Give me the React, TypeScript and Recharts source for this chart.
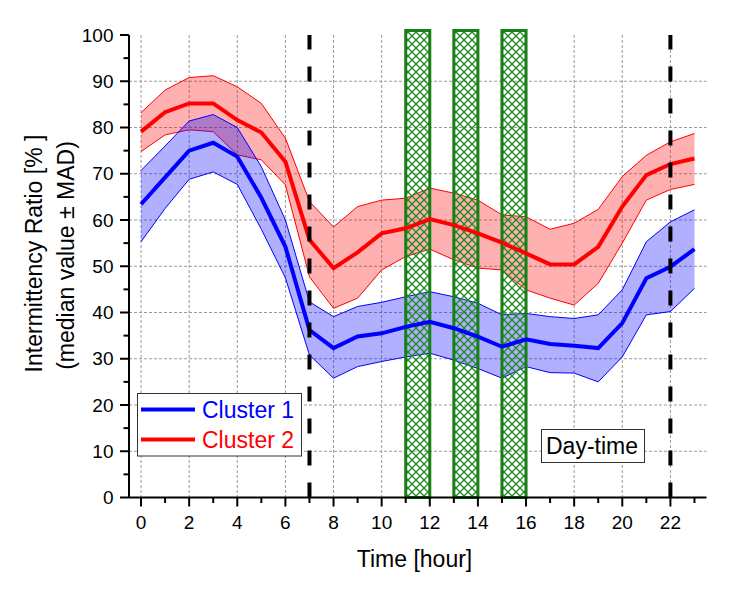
import React from 'react';
import {
  ComposedChart,
  Area,
  Line,
  XAxis,
  YAxis,
  CartesianGrid,
  ReferenceLine,
  ReferenceArea,
  Customized,
} from 'recharts';

const FONT = '"Liberation Sans", Arial, sans-serif';

const hours = [0, 1, 2, 3, 4, 5, 6, 7, 8, 9, 10, 11, 12, 13, 14, 15, 16, 17, 18, 19, 20, 21, 22, 23];

const c1Median = [63.4, 69.2, 75.0, 76.7, 73.7, 64.8, 54.2, 36.2, 32.3, 34.8, 35.5, 36.9, 38.0, 36.6, 34.8, 32.6, 34.2, 33.2, 32.8, 32.3, 37.7, 47.4, 49.9, 53.7];
const c1Upper = [70.7, 76.0, 81.4, 82.8, 80.0, 71.5, 60.0, 42.3, 39.1, 41.3, 42.2, 43.4, 44.5, 43.4, 42.0, 39.5, 39.8, 39.1, 38.7, 39.5, 44.9, 55.3, 59.6, 62.2];
const c1Lower = [55.3, 62.5, 68.8, 70.4, 67.7, 58.0, 47.5, 30.8, 25.8, 28.3, 29.4, 30.4, 31.2, 29.7, 27.9, 25.8, 28.3, 27.0, 26.9, 25.0, 30.4, 39.5, 40.2, 45.2];

const c2Median = [79.1, 83.3, 85.2, 85.2, 81.6, 78.9, 72.6, 55.7, 49.6, 53.0, 57.1, 58.2, 60.2, 58.9, 57.1, 55.1, 52.8, 50.4, 50.4, 54.2, 62.9, 69.7, 72.1, 73.3];
const c2Upper = [83.2, 88.1, 90.8, 91.2, 88.8, 85.2, 77.7, 64.0, 58.5, 62.9, 64.3, 64.7, 66.9, 65.8, 64.3, 61.1, 60.7, 58.0, 59.3, 62.3, 69.4, 74.0, 76.9, 78.7];
const c2Lower = [74.8, 78.4, 79.5, 79.1, 74.1, 73.0, 67.6, 47.7, 40.9, 43.1, 49.2, 52.1, 53.7, 51.4, 49.6, 49.2, 44.9, 43.1, 41.6, 46.3, 55.0, 64.3, 66.6, 67.7];

const xMajorTicks = [0, 2, 4, 6, 8, 10, 12, 14, 16, 18, 20, 22];
const yTicks = [0, 5, 10, 15, 20, 25, 30, 35, 40, 45, 50, 55, 60, 65, 70, 75, 80, 85, 90, 95, 100];
const yMajorTicks = [0, 10, 20, 30, 40, 50, 60, 70, 80, 90, 100];
const yGridValues = [10, 20, 30, 40, 50, 60, 70, 80, 90];

const nightBoundaries = [7, 22];
const hatchBands = [
  [11, 12],
  [13, 14],
  [15, 16],
];
const hatchTop = 101;

const seriesNames = ['Cluster 1', 'Cluster 2'];
const annotation = 'Day-time';

const data = hours.map((h, i) => ({
  hour: h,
  c1: c1Median[i],
  c1Band: [c1Lower[i], c1Upper[i]],
  c2: c2Median[i],
  c2Band: [c2Lower[i], c2Upper[i]],
}));

const XTick = (props: any) => {
  const { x, y, payload } = props;
  const v = payload.value;
  const major = xMajorTicks.includes(v);
  return (
    <g>
      <line x1={x} x2={x} y1={y} y2={y + (major ? 9 : 5.5)} stroke="#000" strokeWidth={2} />
      {major && (
        <text x={x} y={y + 31} textAnchor="middle" fontSize={19} fontFamily={FONT} fill="#000">
          {v}
        </text>
      )}
    </g>
  );
};

const YTick = (props: any) => {
  const { x, y, payload } = props;
  const v = payload.value;
  const major = yMajorTicks.includes(v);
  return (
    <g>
      <line x1={x - (major ? 9 : 5.5)} x2={x} y1={y} y2={y} stroke="#000" strokeWidth={2} />
      {major && (
        <text x={x - 15.5} y={y + 6.5} textAnchor="end" fontSize={19} fontFamily={FONT} fill="#000">
          {v}
        </text>
      )}
    </g>
  );
};

const Decorations = () => (
  <g fontFamily={FONT}>
    <text transform="translate(42,253.5) rotate(-90)" textAnchor="middle" fontSize={23} fill="#000">
      Intermittency Ratio [% ]
    </text>
    <text transform="translate(73.5,255.5) rotate(-90)" textAnchor="middle" fontSize={23} fill="#000">
      (median value ± MAD)
    </text>
    <text x={414.5} y={566.5} textAnchor="middle" fontSize={23} fill="#000">
      Time [hour]
    </text>
    <rect x={137.5} y={393.5} width={164} height={62.5} fill="#fff" stroke="#333" strokeWidth={1} />
    <line x1={141} x2={195} y1={409.5} y2={409.5} stroke="#0000ff" strokeWidth={4} />
    <text x={202} y={417.5} fontSize={23} fill="#0000ff">
      {seriesNames[0]}
    </text>
    <line x1={141} x2={195} y1={439.5} y2={439.5} stroke="#ff0000" strokeWidth={4} />
    <text x={202} y={447.5} fontSize={23} fill="#ff0000">
      {seriesNames[1]}
    </text>
    <rect x={541.5} y={429.5} width={103} height={33} fill="#fff" stroke="#333" strokeWidth={1} />
    <text x={546} y={453.5} fontSize={23} fill="#000">
      {annotation}
    </text>
  </g>
);

export default function App() {
  return (
    <div style={{ position: 'absolute', left: 0, top: 0 }}>
      <ComposedChart
        width={740}
        height={591}
        data={data}
        margin={{ top: 35, right: 33.5, left: 69, bottom: 53.5 }}
      >
        <defs>
          <pattern id="hatch" patternUnits="userSpaceOnUse" width={8} height={8}>
            <rect x={0} y={0} width={8} height={8} fill="rgba(255,255,255,0)" />
            <path d="M0,0 L8,8 M8,0 L0,8" stroke="#1f8a1f" strokeWidth={1.3} />
          </pattern>
        </defs>
        <CartesianGrid
          stroke="#9a9a9a"
          strokeDasharray="3 2"
          horizontalValues={yGridValues}
          verticalValues={xMajorTicks}
        />
        <XAxis
          dataKey="hour"
          type="number"
          domain={[-0.5, 23.5]}
          ticks={hours}
          interval={0}
          allowDataOverflow
          height={40}
          tickSize={0}
          tickMargin={0}
          tickLine={false}
          axisLine={{ stroke: '#000', strokeWidth: 2 }}
          tick={<XTick />}
        />
        <YAxis
          type="number"
          domain={[0, 100]}
          ticks={yTicks}
          interval={0}
          allowDataOverflow
          width={60}
          tickSize={0}
          tickMargin={0}
          tickLine={false}
          axisLine={{ stroke: '#000', strokeWidth: 2 }}
          tick={<YTick />}
        />
        <Area
          type="linear"
          dataKey="c2Band"
          stroke="#ff0000"
          strokeWidth={1}
          fill="#ff0000"
          fillOpacity={0.31}
          isAnimationActive={false}
        />
        <Area
          type="linear"
          dataKey="c1Band"
          stroke="#0000ff"
          strokeWidth={1}
          fill="#0000ff"
          fillOpacity={0.31}
          isAnimationActive={false}
        />
        <Line
          type="linear"
          dataKey="c2"
          stroke="#ff0000"
          strokeWidth={4}
          dot={false}
          isAnimationActive={false}
        />
        <Line
          type="linear"
          dataKey="c1"
          stroke="#0000ff"
          strokeWidth={4}
          dot={false}
          isAnimationActive={false}
        />
        {hatchBands.map(([a, b]) => (
          <ReferenceArea
            key={a}
            x1={a}
            x2={b}
            y1={0}
            y2={hatchTop}
            ifOverflow="visible"
            fill="url(#hatch)"
            fillOpacity={1}
            stroke="#158015"
            strokeWidth={3}
          />
        ))}
        {nightBoundaries.map((h) => (
          <ReferenceLine
            key={h}
            x={h}
            stroke="#000"
            strokeWidth={4}
            strokeDasharray="15 17"
          />
        ))}
        <Customized component={Decorations} />
      </ComposedChart>
    </div>
  );
}
